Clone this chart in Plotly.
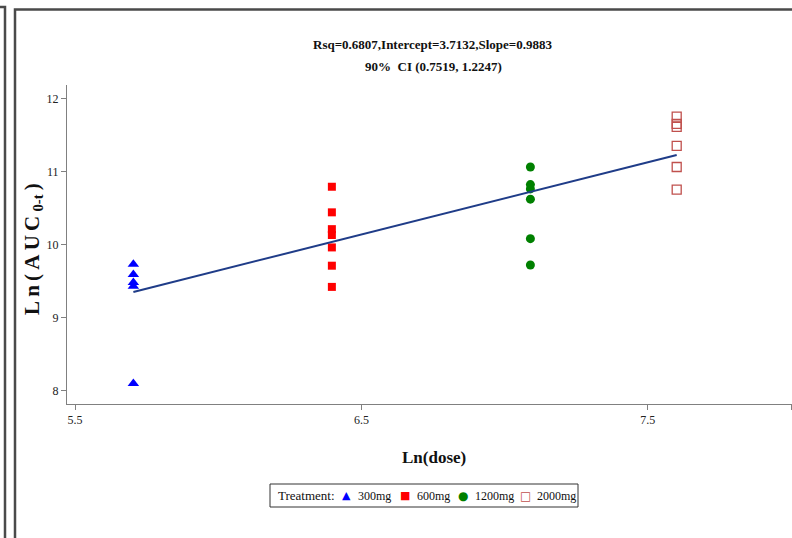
import plotly.graph_objects as go

# ---- data ----
dose_labels = ["300mg", "600mg", "1200mg", "2000mg"]
ln_dose = [5.7038, 6.3969, 7.0901, 7.6009]

auc_300 = [9.73, 9.59, 9.48, 9.43, 8.10]
auc_600 = [10.79, 10.44, 10.21, 10.13, 9.96, 9.71, 9.42]
auc_1200 = [11.06, 10.82, 10.76, 10.62, 10.08, 9.72]
auc_2000 = [11.75, 11.65, 11.61, 11.35, 11.06, 10.75]

fit_x = [5.7038, 7.6009]
fit_y = [9.350, 11.225]

x_ticks = [5.5, 6.5, 7.5, 8]
x_tick_text = ["5.5", "6.5", "7.5", "8"]
y_ticks = [8, 9, 10, 11, 12]

title_line1 = "Rsq=0.6807,Intercept=3.7132,Slope=0.9883"
title_line2 = "90%\u00a0\u00a0CI (0.7519, 1.2247)"
legend_title = "Treatment:"

# ---- layout geometry ----
W, H = 792, 538
L, R, T, B = 67, 0, 85, 134
PW, PH = W - L - R, H - T - B


def px(x):
    return (x - L) / PW


def py(y):
    return (H - B - y) / PH


FONT = "Liberation Serif"
SYM_FONT = "DejaVu Sans"

colors = ["#0000ff", "#ff0000", "#008000", "#c0504d"]
series = [
    (auc_300, dict(symbol="triangle-up", color=colors[0], size=10)),
    (auc_600, dict(symbol="square", color=colors[1], size=8)),
    (auc_1200, dict(symbol="circle", color=colors[2], size=9)),
    (auc_2000, dict(symbol="square-open", color=colors[3], size=9,
                    line=dict(width=1.3, color=colors[3]))),
]

fig = go.Figure()
for (vals, mk), xv, name in zip(series, ln_dose, dose_labels):
    fig.add_trace(go.Scatter(
        x=[xv] * len(vals), y=vals, mode="markers", name=name, marker=mk,
    ))

fig.add_trace(go.Scatter(
    x=fit_x, y=fit_y, mode="lines", name="fit",
    line=dict(color="#1f3c88", width=2),
))

fig.update_layout(
    width=W, height=H,
    margin=dict(l=L, r=R, t=T, b=B),
    paper_bgcolor="white", plot_bgcolor="white",
    font=dict(family=FONT, size=12, color="#222222"),
    showlegend=False,
    xaxis=dict(
        range=[5.5 - (75 - L) / 286.4, 5.5 + (W - 75) / 286.4],
        tickvals=x_ticks, ticktext=x_tick_text,
        showline=True, linecolor="#808080", linewidth=1,
        ticks="outside", ticklen=5, tickcolor="#808080",
        showgrid=False, zeroline=False,
        tickfont=dict(family=FONT, size=12, color="#222222"),
    ),
    yaxis=dict(
        range=[8 - (404 - 390.7) / 73.1, 8 + (390.7 - 85) / 73.1],
        tickvals=y_ticks,
        showline=True, linecolor="#808080", linewidth=1,
        ticks="outside", ticklen=5, tickcolor="#808080",
        showgrid=False, zeroline=False,
        tickfont=dict(family=FONT, size=12, color="#222222"),
    ),
)

sp = "\u2009"
ylab = sp.join(["L", "n", "(", "A", "U", "C"]) + sp + "<sub>0-t</sub>" + sp + ")"

annos = [
    dict(text=title_line1, x=px(433), y=py(44), font=dict(size=13, weight="bold")),
    dict(text=title_line2, x=px(433), y=py(66), font=dict(size=13, weight="bold")),
    dict(text="Ln(dose)", x=px(434), y=py(457), font=dict(size=17, weight="bold")),
    dict(text=ylab, x=px(33), y=py(249), textangle=-90,
         font=dict(size=21, weight="bold")),
    dict(text=legend_title, x=px(276), y=py(495.5), xanchor="left",
         font=dict(size=13)),
]
# custom legend row: glyph + label
glyphs = ["\u25b2", "\u25a0", "\u25cf", "\u25a1"]
glyph_sizes = [11, 11, 12, 12]
glyph_x = [346, 405, 463, 525]
label_x = [356, 415, 473, 535]
for g, gs, gx, lx, c, name in zip(glyphs, glyph_sizes, glyph_x, label_x, colors, dose_labels):
    annos.append(dict(text=g, x=px(gx), y=py(495.5),
                      font=dict(size=gs, color=c, family=SYM_FONT)))
    annos.append(dict(text=name, x=px(lx), y=py(495.5), xanchor="left",
                      font=dict(size=12)))

for a in annos:
    a.setdefault("xanchor", "center")
    a.update(xref="paper", yref="paper", showarrow=False, yanchor="middle")
    a["font"].setdefault("family", FONT)
    a["font"].setdefault("color", "#111111")
    fig.add_annotation(**a)

# legend box
fig.add_shape(type="rect", xref="paper", yref="paper",
              x0=px(270), x1=px(578), y0=py(484), y1=py(507),
              line=dict(color="#333333", width=1))

# outer frames (from the reference page)
fig.add_shape(type="path", xref="paper", yref="paper",
              path=f"M {px(0)},{py(7)} L {px(5)},{py(7)} L {px(5)},{py(H)}",
              line=dict(color="#4a4a4a", width=2.5))
fig.add_shape(type="path", xref="paper", yref="paper",
              path=f"M {px(15)},{py(H)} L {px(15)},{py(9.5)} L {px(W)},{py(9.5)}",
              line=dict(color="#4a4a4a", width=2.5))

fig.write_html(
    "out.html",
    config={"displayModeBar": False},
    post_script="document.body.style.margin='0px';document.body.style.overflow='hidden';",
)
